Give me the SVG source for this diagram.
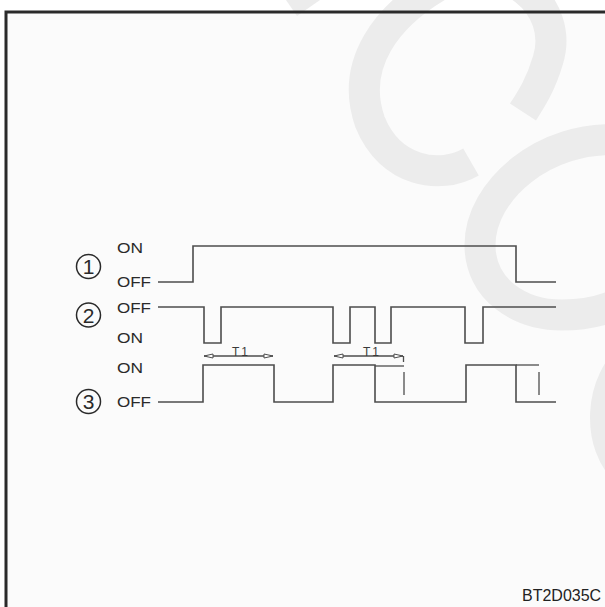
<svg xmlns="http://www.w3.org/2000/svg" width="605" height="607" viewBox="0 0 605 607">
  <style>
    .wm { fill: none; stroke: #ececec; stroke-width: 31; stroke-linecap: butt; }
    .wave { fill: none; stroke: #4d4d4d; stroke-width: 1.6; stroke-linejoin: miter; }
    .thin { fill: none; stroke: #4d4d4d; stroke-width: 1.3; }
    .ah { fill: #ffffff; stroke: #4d4d4d; stroke-width: 1; }
    .lbl { font-family: "Liberation Sans", Arial, sans-serif; font-size: 15px; fill: #2a2a2a; }
    .num { font-family: "Liberation Sans", Arial, sans-serif; font-size: 21px; fill: #2a2a2a; text-anchor: middle; }
    .ring { fill: none; stroke: #2a2a2a; stroke-width: 1.5; }
    .t1 { font-family: "Liberation Sans", Arial, sans-serif; font-size: 12px; fill: #3a3a3a; }
  </style>

  <rect x="0" y="0" width="605" height="607" fill="#ffffff"/>
  <rect x="5" y="11" width="600" height="596" fill="#fbfbfb"/>

  <!-- watermark -->
  <g id="watermark">
    <polygon points="286,0 297,16 320,0" fill="#ececec"/>
    <path class="wm" d="M471,162 C440,180 390,172 370,122 C350,65 385,15 445,-18 C505,-45 565,5 548,60 C541,84 532,98 523,112"/>
    <path class="wm" d="M620,140 C545,135 480,190 480,245 C480,290 520,315 562,315 C585,315 605,310 620,303"/>
    <path class="wm" d="M635,355 C598,378 596,448 628,472"/>
  </g>

  <!-- frame -->
  <path d="M6,607 L6,12 L605,12" fill="none" stroke="#2a2a2a" stroke-width="3"/>

  <!-- labels -->
  <g id="signal1">
    <circle class="ring" cx="88.5" cy="266.5" r="12"/>
    <text class="num" x="88.5" y="274">1</text>
    <text class="lbl" x="117" y="253" textLength="26" lengthAdjust="spacingAndGlyphs">ON</text>
    <text class="lbl" x="117" y="287" textLength="34" lengthAdjust="spacingAndGlyphs">OFF</text>
  </g>
  <g id="signal2">
    <circle class="ring" cx="88.5" cy="315" r="12"/>
    <text class="num" x="88.5" y="322.5">2</text>
    <text class="lbl" x="117" y="313" textLength="34" lengthAdjust="spacingAndGlyphs">OFF</text>
    <text class="lbl" x="117" y="343" textLength="26" lengthAdjust="spacingAndGlyphs">ON</text>
  </g>
  <g id="signal3">
    <circle class="ring" cx="88.5" cy="401.5" r="12"/>
    <text class="num" x="88.5" y="409">3</text>
    <text class="lbl" x="117" y="373" textLength="26" lengthAdjust="spacingAndGlyphs">ON</text>
    <text class="lbl" x="117" y="407" textLength="34" lengthAdjust="spacingAndGlyphs">OFF</text>
  </g>

  <g id="connectors">
    <!-- wave 1 -->
    <path class="wave" d="M158,282 H193 V246 H516 V282 H556"/>
    <!-- wave 2 -->
    <path class="wave" d="M158,307 H204 V343 H221 V307 H333 V343 H350 V307 H375 V343 H391 V307 H465 V343 H483 V307 H556"/>
    <!-- wave 3 -->
    <path class="wave" d="M158,402 H203 V365 H274 V402 H333 V365 H375 V402 H466 V365 H516 V402 H556"/>
    <!-- extensions -->
    <path class="thin" d="M375,366 H404"/>
    <path class="thin" d="M404,372 V395"/>
    <path class="thin" d="M516,365 H539"/>
    <path class="thin" d="M539,372 V395"/>
    <!-- T1 dimension lines -->
    <path class="thin" d="M204,356 H273"/>
    <path class="ah" d="M204,356 L213,354 L213,358 Z"/>
    <path class="ah" d="M273,356 L264,354 L264,358 Z"/>
    <path class="thin" d="M334,356 H403"/>
    <path class="ah" d="M334,356 L343,354 L343,358 Z"/>
    <path class="ah" d="M403,356 L394,354 L394,358 Z"/>
    <path class="thin" d="M403.5,356 V362"/>
    <text class="t1" x="232" y="356" letter-spacing="2">T1</text>
    <text class="t1" x="363" y="356" letter-spacing="2">T1</text>
  </g>

  <text id="code" x="522" y="601" font-family="Liberation Sans, Arial, sans-serif" font-size="16" fill="#222222">BT2D035C</text>
</svg>
